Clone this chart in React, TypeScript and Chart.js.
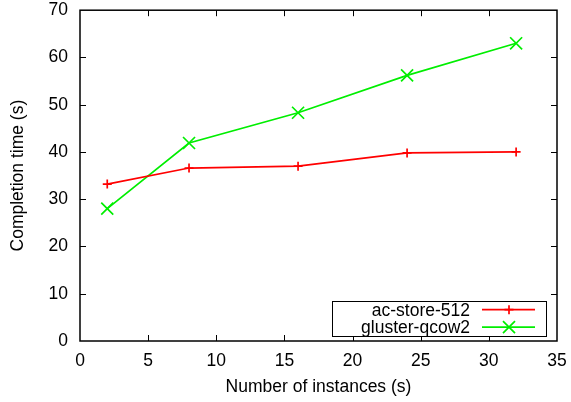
import React, { useEffect, useRef } from "react";
import { Chart, registerables } from "chart.js";

Chart.register(...registerables);

const instances = [2, 8, 16, 24, 32];
const acStore512 = [33.2, 36.6, 37.0, 39.8, 40.0];
const glusterQcow2 = [28.0, 41.9, 48.3, 56.2, 63.0];
const seriesLabels = ["ac-store-512", "gluster-qcow2"];
const xTitle = "Number of instances (s)";
const yTitle = "Completion time (s)";

const RED = "#ff0000";
const GREEN = "#00ee00";
const FONT = "'Liberation Sans', Arial, Helvetica, sans-serif";
const FS = 17.5;

const framePlugin = {
  id: "frame",
  beforeDatasetsDraw(chart: any) {
    const { ctx, chartArea: a, scales } = chart;
    ctx.save();
    ctx.strokeStyle = "#000";
    ctx.lineWidth = 1.5;
    ctx.strokeRect(a.left, a.top, a.right - a.left, a.bottom - a.top);
    ctx.lineWidth = 1;
    const tl = 6;
    const xs = scales.x;
    xs.ticks.forEach((t: any) => {
      if (t.value <= xs.min || t.value >= xs.max) return;
      const px = Math.round(xs.getPixelForValue(t.value)) + 0.5;
      ctx.beginPath();
      ctx.moveTo(px, a.bottom);
      ctx.lineTo(px, a.bottom - tl);
      ctx.moveTo(px, a.top);
      ctx.lineTo(px, a.top + tl);
      ctx.stroke();
    });
    const ys = scales.y;
    ys.ticks.forEach((t: any) => {
      if (t.value <= ys.min || t.value >= ys.max) return;
      const py = Math.round(ys.getPixelForValue(t.value)) + 0.5;
      ctx.beginPath();
      ctx.moveTo(a.left, py);
      ctx.lineTo(a.left + tl, py);
      ctx.moveTo(a.right, py);
      ctx.lineTo(a.right - tl, py);
      ctx.stroke();
    });
    ctx.restore();
  },
};

const legendPlugin = {
  id: "gnuLegend",
  afterDatasetsDraw(chart: any) {
    const { ctx, chartArea: a } = chart;
    const w = 214;
    const h = 35;
    const right = a.right - 11;
    const bottom = a.bottom - 5;
    const left = right - w;
    const top = bottom - h;
    ctx.save();
    ctx.fillStyle = "#fff";
    ctx.fillRect(left, top, w, h);
    ctx.strokeStyle = "#000";
    ctx.lineWidth = 1;
    ctx.strokeRect(left + 0.5, top + 0.5, w, h);
    ctx.font = `${FS}px ${FONT}`;
    ctx.textAlign = "right";
    ctx.textBaseline = "middle";
    chart.data.datasets.forEach((ds: any, i: number) => {
      const cy = top + 8.7 + i * 17.4;
      ctx.fillStyle = "#000";
      ctx.fillText(ds.label, left + 138, cy + 1);
      ctx.strokeStyle = ds.borderColor;
      ctx.lineWidth = 1.7;
      ctx.beginPath();
      ctx.moveTo(left + 150, cy);
      ctx.lineTo(left + 203, cy);
      ctx.stroke();
      const mx = left + 177;
      ctx.beginPath();
      if (ds.pointStyle === "cross") {
        const r = ds.pointRadius;
        ctx.moveTo(mx - r, cy);
        ctx.lineTo(mx + r, cy);
        ctx.moveTo(mx, cy - r);
        ctx.lineTo(mx, cy + r);
      } else {
        const r = ds.pointRadius * Math.SQRT1_2;
        ctx.moveTo(mx - r, cy - r);
        ctx.lineTo(mx + r, cy + r);
        ctx.moveTo(mx - r, cy + r);
        ctx.lineTo(mx + r, cy - r);
      }
      ctx.stroke();
    });
    ctx.restore();
  },
};

const zeroPad = (s: any) => {
  s.paddingTop = 0;
  s.paddingBottom = 0;
  s.paddingLeft = 0;
  s.paddingRight = 0;
};

export default function App() {
  const ref = useRef<HTMLCanvasElement | null>(null);
  useEffect(() => {
    document.body.style.margin = "0";
    const canvas = ref.current;
    if (!canvas) return;
    const chart = new Chart(canvas, {
      type: "line",
      data: {
        datasets: [
          {
            label: seriesLabels[0],
            data: instances.map((x, i) => ({ x, y: acStore512[i] })),
            borderColor: RED,
            backgroundColor: RED,
            borderWidth: 1.7,
            pointStyle: "cross",
            pointRadius: 4.5,
            pointBorderWidth: 1.7,
            pointHoverRadius: 4.5,
            tension: 0,
            fill: false,
          },
          {
            label: seriesLabels[1],
            data: instances.map((x, i) => ({ x, y: glusterQcow2[i] })),
            borderColor: GREEN,
            backgroundColor: GREEN,
            borderWidth: 1.7,
            pointStyle: "crossRot",
            pointRadius: 8.5,
            pointBorderWidth: 1.7,
            pointHoverRadius: 8.5,
            tension: 0,
            fill: false,
          },
        ],
      },
      options: {
        responsive: false,
        animation: false,
        events: [],
        layout: { padding: { top: 10, right: 14, left: 0, bottom: 0 } },
        plugins: {
          legend: { display: false },
          tooltip: { enabled: false },
        },
        scales: {
          x: {
            type: "linear",
            min: 0,
            max: 35,
            grid: { display: false, drawTicks: false },
            border: { display: false },
            ticks: {
              stepSize: 5,
              padding: 10,
              color: "#000",
              font: { family: FONT, size: FS },
              maxRotation: 0,
            },
            title: {
              display: true,
              text: xTitle,
              color: "#000",
              font: { family: FONT, size: FS },
              padding: { top: 0, bottom: 4.5 },
            },
            afterFit: (s: any) => {
              s.height = 61;
              zeroPad(s);
            },
          },
          y: {
            type: "linear",
            min: 0,
            max: 70,
            grid: { display: false, drawTicks: false },
            border: { display: false },
            ticks: {
              stepSize: 10,
              padding: 12,
              color: "#000",
              font: { family: FONT, size: FS },
            },
            title: {
              display: true,
              text: yTitle,
              color: "#000",
              font: { family: FONT, size: FS },
              padding: { top: 7.5, bottom: 0 },
            },
            afterFit: (s: any) => {
              s.width = 80;
              zeroPad(s);
            },
          },
        },
      },
      plugins: [framePlugin, legendPlugin],
    });
    return () => chart.destroy();
  }, []);
  return (
    <canvas
      ref={ref}
      width={571}
      height={402}
      style={{ display: "block", width: 571, height: 402 }}
    />
  );
}
